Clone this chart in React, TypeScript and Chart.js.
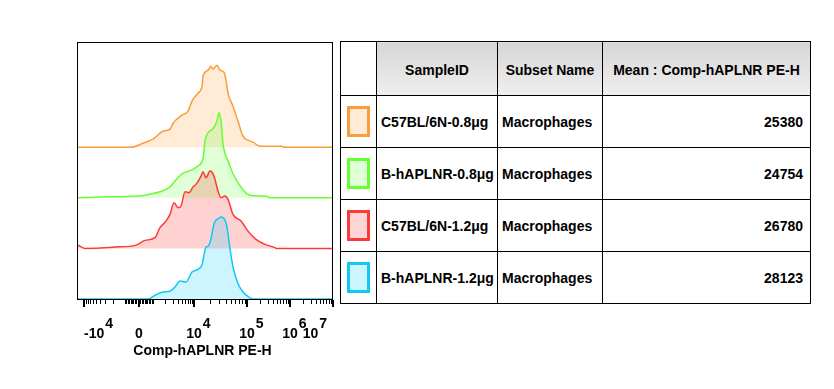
import React, { useEffect, useRef } from "react";
import { Chart, registerables } from "chart.js";

Chart.register(...registerables);

// ---------------- data ----------------
const SAMPLE_IDS = ["C57BL/6N-0.8μg", "B-hAPLNR-0.8μg", "C57BL/6N-1.2μg", "B-hAPLNR-1.2μg"];
const SUBSET_NAMES = ["Macrophages", "Macrophages", "Macrophages", "Macrophages"];
const MEAN_VALUES = [25380, 24754, 26780, 28123];
const HEADERS = ["SampleID", "Subset Name", "Mean : Comp-hAPLNR PE-H"];
const X_TITLE = "Comp-hAPLNR PE-H";

// histogram bins: display channel (0-255) and normalized count
const CH_C57_08 = [0, 53, 65, 75, 85, 92, 95, 104, 110, 114, 120, 124, 125, 130, 133, 135, 139, 142, 146, 148, 150, 155, 160, 165, 170, 175, 182, 204, 205, 255];
const CNT_C57_08 = [0, 0, 4, 8, 16, 18, 24, 32, 36, 46, 54, 61, 71, 77, 81, 78, 82, 77, 75, 67, 54, 41, 26, 11, 7, 5, 1, 1, 0, 0];

const CH_HAPLNR_08 = [0, 32, 64, 69, 82, 92, 99, 104, 114, 120, 125, 127, 130, 135, 139, 141, 143, 145, 150, 155, 162, 169, 175, 189, 192, 255];
const CNT_HAPLNR_08 = [0, 1, 2, 3, 6, 11, 19, 24, 28, 32, 39, 57, 65, 69, 77, 85, 77, 54, 37, 24, 12, 4, 2, 1.5, 0, 0];

const CH_C57_12 = [0, 7, 37, 58, 67, 77, 82, 88, 92, 96, 100, 103, 107, 111, 115, 118, 123, 125, 128, 132, 136, 140, 143, 147, 150, 155, 163, 170, 178, 187, 197, 198, 255];
const CNT_C57_12 = [3.3, 0, 1.3, 3.3, 8, 10.7, 20.7, 27.3, 34, 45.7, 40.7, 42.3, 56.7, 55.7, 61.3, 64, 72.3, 76.7, 70.7, 77.3, 72.3, 57.3, 50.7, 52.3, 49, 34, 27.3, 17.3, 9, 4, 0.7, 0, 0];

const CH_HAPLNR_12 = [0, 70, 77, 85, 92, 97, 102, 108, 114, 120, 124, 128, 130, 133, 136, 140, 143, 147, 149, 152, 155, 160, 165, 172, 174, 255];
const CNT_HAPLNR_12 = [0, 0, 3.7, 7, 7.7, 12, 18, 17, 27, 29.7, 34.3, 52, 52.7, 60.3, 75.3, 80.3, 82, 78.7, 72, 50.3, 32, 15.3, 7, 1, 0, 0];

const CHANNELS = [CH_C57_08, CH_HAPLNR_08, CH_C57_12, CH_HAPLNR_12];
const COUNTS = [CNT_C57_08, CNT_HAPLNR_08, CNT_C57_12, CNT_HAPLNR_12];

// axis ticks (data values) and their labels
const MAJOR_TICK_VALUES = [-1e4, 0, 1e4, 1e5, 1e6, 1e7];
const TICK_BASES = ["-10", "0", "10", "10", "10", "10"];
const TICK_EXPONENTS = ["4", "", "4", "5", "6", "7"];

// ---------------- style ----------------
const LINE_COLORS = ["#fa9b3c", "#66ff33", "#ff3838", "#11c8f5"];
const FILL_COLORS = ["rgba(255,153,51,0.2)", "rgba(102,255,51,0.2)", "rgba(255,51,51,0.22)", "rgba(0,204,255,0.2)"];
const SWATCH_FILLS = ["#ffebd6", "#e0ffd6", "#ffd6d6", "#ccf5ff"];
const TRACK_BASE = 1;
const TRACK_STEP = 50.6;
const FONT = "'Liberation Sans', Arial, sans-serif";

// logicle-like display transform (value -> channel)
const ZERO_CH = 61;
const ANCHOR_VALUES = [1e3, 1e4, 1e5, 1e6, 1e7];
const ANCHOR_OFFSETS = [14, 55, 108, 151, 194];
function toChannel(v: number): number {
  const s = Math.sign(v);
  const m = Math.abs(v);
  let d: number;
  if (m <= ANCHOR_VALUES[0]) {
    d = (m / ANCHOR_VALUES[0]) * ANCHOR_OFFSETS[0];
  } else {
    let i = 0;
    while (i < ANCHOR_VALUES.length - 2 && m > ANCHOR_VALUES[i + 1]) i++;
    const t = (Math.log10(m) - Math.log10(ANCHOR_VALUES[i])) / (Math.log10(ANCHOR_VALUES[i + 1]) - Math.log10(ANCHOR_VALUES[i]));
    d = ANCHOR_OFFSETS[i] + t * (ANCHOR_OFFSETS[i + 1] - ANCHOR_OFFSETS[i]);
  }
  return ZERO_CH + s * d;
}

function minorTickValues(): number[] {
  const out: number[] = [];
  for (let e = 2; e <= 6; e++) {
    for (let k = 1; k <= 9; k++) {
      const v = k * Math.pow(10, e);
      if (MAJOR_TICK_VALUES.indexOf(v) >= 0) continue;
      out.push(v);
      if (e <= 3) out.push(-v);
    }
  }
  return out;
}

const axisPlugin = {
  id: "flowAxis",
  afterDraw(chart: any) {
    const { ctx, chartArea } = chart;
    const xs = chart.scales.x;
    const { left, right, top, bottom } = chartArea;
    ctx.save();
    // frame
    ctx.strokeStyle = "#000";
    ctx.lineWidth = 1;
    ctx.strokeRect(left - 0.5, top - 0.5, right - left, bottom - top);
    // minor ticks
    ctx.beginPath();
    for (const v of minorTickValues()) {
      const ch = toChannel(v);
      if (ch < xs.min || ch > xs.max) continue;
      const px = Math.round(xs.getPixelForValue(ch)) + 0.5;
      ctx.moveTo(px, bottom);
      ctx.lineTo(px, bottom + 4);
    }
    ctx.lineWidth = 1;
    ctx.stroke();
    // major ticks
    ctx.beginPath();
    for (const v of MAJOR_TICK_VALUES) {
      const px = Math.round(xs.getPixelForValue(toChannel(v)));
      ctx.moveTo(px, bottom);
      ctx.lineTo(px, bottom + 7);
    }
    ctx.lineWidth = 2;
    ctx.stroke();
    // labels
    ctx.fillStyle = "#000";
    ctx.font = `bold 14px ${FONT}`;
    ctx.textAlign = "left";
    ctx.textBaseline = "alphabetic";
    MAJOR_TICK_VALUES.forEach((v, i) => {
      const px = xs.getPixelForValue(toChannel(v));
      const base = TICK_BASES[i];
      const exp = TICK_EXPONENTS[i];
      const bw = ctx.measureText(base).width;
      const ew = exp ? ctx.measureText(exp).width + 1 : 0;
      let start = px - bw / 2;
      start = Math.max(start, left + 6);
      start = Math.min(start, right - 6 - bw - ew);
      ctx.fillText(base, start, bottom + 38);
      if (exp) ctx.fillText(exp, start + bw + 1, bottom + 28);
    });
    ctx.textAlign = "center";
    ctx.fillText(X_TITLE, (left + right) / 2 - 3, bottom + 55);
    ctx.restore();
  },
};

function HistogramChart() {
  const ref = useRef<HTMLCanvasElement | null>(null);
  useEffect(() => {
    if (!ref.current) return;
    const datasets = CHANNELS.map((chs, i) => {
      const base = TRACK_BASE + (CHANNELS.length - 1 - i) * TRACK_STEP;
      return {
        label: SAMPLE_IDS[i],
        data: chs.map((c, j) => ({ x: c, y: base + COUNTS[i][j] })),
        borderColor: LINE_COLORS[i],
        backgroundColor: FILL_COLORS[i],
        borderWidth: 1.5,
        pointRadius: 0,
        cubicInterpolationMode: "monotone" as const,
        fill: { value: base },
        order: CHANNELS.length - 1 - i,
      };
    });
    const chart = new Chart(ref.current, {
      type: "line",
      data: { datasets },
      options: {
        animation: false,
        responsive: false,
        devicePixelRatio: 1,
        layout: { padding: { left: 78, top: 43, right: 7, bottom: 89 } },
        plugins: { legend: { display: false }, tooltip: { enabled: false } },
        scales: {
          x: { type: "linear", min: 0, max: 255, display: false },
          y: { type: "linear", min: 0, max: 257, display: false },
        },
      },
      plugins: [axisPlugin],
    });
    return () => chart.destroy();
  }, []);
  return (
    <canvas
      ref={ref}
      width={340}
      height={389}
      style={{ position: "absolute", left: 0, top: 0, width: 340, height: 389 }}
    />
  );
}

const cellBorder = "1px solid #000";

function StatsTable() {
  const tdBase: React.CSSProperties = {
    border: cellBorder,
    padding: "0 6px",
    fontWeight: "bold",
    fontSize: "14px",
    fontFamily: FONT,
    color: "#000",
    verticalAlign: "middle",
    whiteSpace: "nowrap",
    overflow: "hidden",
  };
  const th: React.CSSProperties = {
    ...tdBase,
    textAlign: "center",
    paddingTop: 3,
    background: "linear-gradient(#d6d6d6, #efefef)",
  };
  return (
    <table
      style={{
        position: "absolute",
        left: 340,
        top: 41,
        width: 471,
        borderCollapse: "collapse",
        tableLayout: "fixed",
        background: "#fff",
      }}
    >
      <colgroup>
        <col style={{ width: 36 }} />
        <col style={{ width: 121 }} />
        <col style={{ width: 105 }} />
        <col style={{ width: 208 }} />
      </colgroup>
      <thead>
        <tr style={{ height: 54 }}>
          <th style={{ ...tdBase, background: "#fff" }}></th>
          {HEADERS.map((h) => (
            <th key={h} style={th}>{h}</th>
          ))}
        </tr>
      </thead>
      <tbody>
        {SAMPLE_IDS.map((id, i) => (
          <tr key={id} style={{ height: 52 }}>
            <td style={{ ...tdBase, padding: 0, textAlign: "center" }}>
              <div
                style={{
                  width: 17,
                  height: 25,
                  margin: "0 auto",
                  border: `3px solid ${LINE_COLORS[i]}`,
                  background: SWATCH_FILLS[i],
                }}
              />
            </td>
            <td style={{ ...tdBase, padding: "0 4px" }}>{id}</td>
            <td style={{ ...tdBase, padding: "0 4px" }}>{SUBSET_NAMES[i]}</td>
            <td style={{ ...tdBase, textAlign: "right", padding: "0 7px" }}>{MEAN_VALUES[i]}</td>
          </tr>
        ))}
      </tbody>
    </table>
  );
}

export default function App() {
  return (
    <div
      style={{
        position: "fixed",
        left: 0,
        top: 0,
        width: 834,
        height: 389,
        background: "#fff",
        overflow: "hidden",
      }}
    >
      <HistogramChart />
      <StatsTable />
    </div>
  );
}
